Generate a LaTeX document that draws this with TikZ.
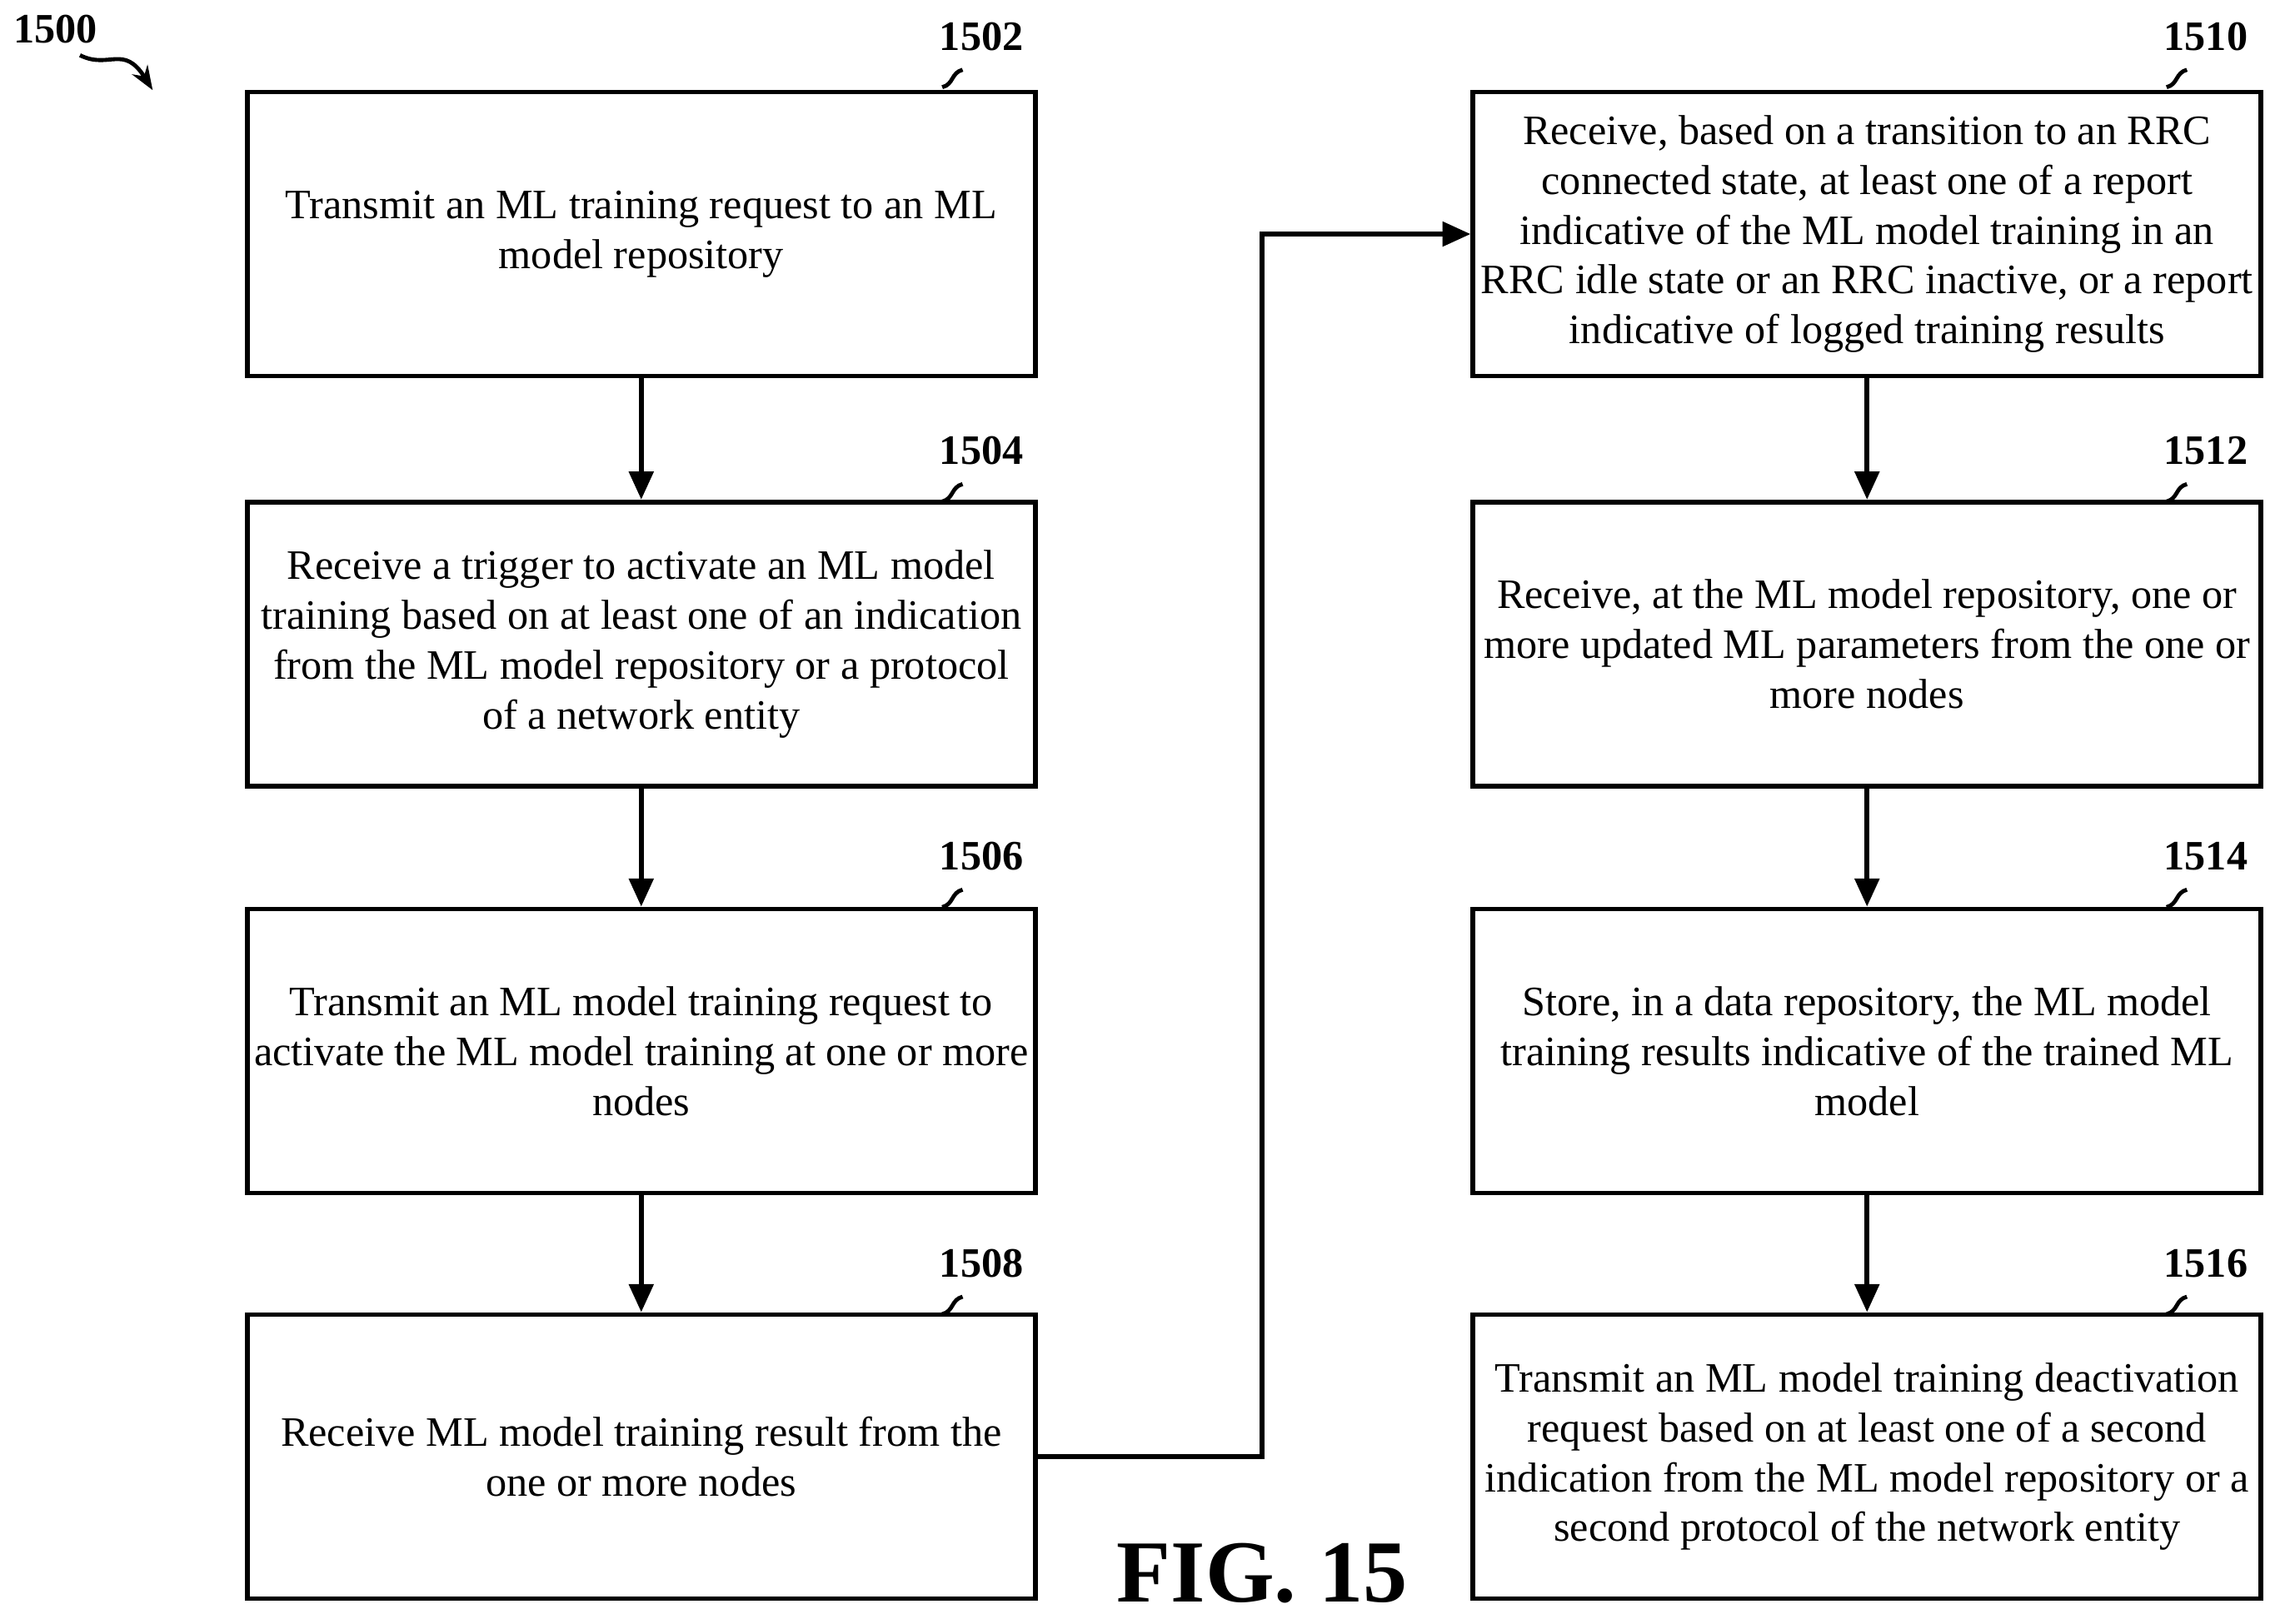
\documentclass[tikz,border=0pt]{standalone}
\usepackage{fontspec}
\setmainfont{Liberation Serif}
\usetikzlibrary{arrows.meta}
\tikzset{
  stage/.style={draw, line width=1.2pt, minimum width=6.88cm, minimum height=2.48cm, align=center, inner sep=1pt, font=\fontsize{10.4}{12.4}\selectfont},
  flow/.style={line width=1.2pt, -{Triangle[length=7pt, width=6pt]}},
  tag/.style={font=\bfseries\fontsize{10.4}{12}\selectfont},
}
\begin{document}
\begin{tikzpicture}[x=0.0127cm, y=-0.0127cm]
  \useasboundingbox (0, 0) rectangle (1568, 1117);

  \node[tag] (fig) at (38, 20) {1500};
  \draw[line width=1pt, -{Stealth[length=6pt]}] (55, 38) .. controls (75, 48) and (85, 30) .. (105, 62);

  \node[stage] (s1502) at (441, 161) {Transmit an ML training request to an ML\\model repository};
  \node[stage] (s1504) at (441, 443) {Receive a trigger to activate an ML model\\training based on at least one of an indication\\from the ML model repository or a protocol\\of a network entity};
  \node[stage] (s1506) at (441, 723) {Transmit an ML model training request to\\activate the ML model training at one or more\\nodes};
  \node[stage] (s1508) at (441, 1002) {Receive ML model training result from the\\one or more nodes};

  \node[stage] (s1510) at (1284, 161) {Receive, based on a transition to an RRC\\connected state, at least one of a report\\indicative of the ML model training in an\\RRC idle state or an RRC inactive, or a report\\indicative of logged training results};
  \node[stage] (s1512) at (1284, 443) {Receive, at the ML model repository, one or\\more updated ML parameters from the one or\\more nodes};
  \node[stage] (s1514) at (1284, 723) {Store, in a data repository, the ML model\\training results indicative of the trained ML\\model};
  \node[stage] (s1516) at (1284, 1002) {Transmit an ML model training deactivation\\request based on at least one of a second\\indication from the ML model repository or a\\second protocol of the network entity};

  % reference numerals
  \foreach \n/\x/\y in {1502/648/60, 1504/648/345, 1506/648/624, 1508/648/904, 1510/1490/60, 1512/1490/345, 1514/1490/624, 1516/1490/904} {
    \draw[line width=1pt] (\x, \y) .. controls (\x+8, \y-2) and (\x+6, \y-10) .. (\x+14, \y-12);
    \node[tag] at (\x+27, \y-35) {\n};
  }

  \draw[flow] (s1502) -- (s1504);
  \draw[flow] (s1504) -- (s1506);
  \draw[flow] (s1506) -- (s1508);
  \draw[flow] (s1508.east) -- (868, 1002) -- (868, 161) -- (s1510.west);
  \draw[flow] (s1510) -- (s1512);
  \draw[flow] (s1512) -- (s1514);
  \draw[flow] (s1514) -- (s1516);

  \node[font=\bfseries\fontsize{22}{24}\selectfont] (caption) at (868, 1082) {FIG. 15};
\end{tikzpicture}
\end{document}
